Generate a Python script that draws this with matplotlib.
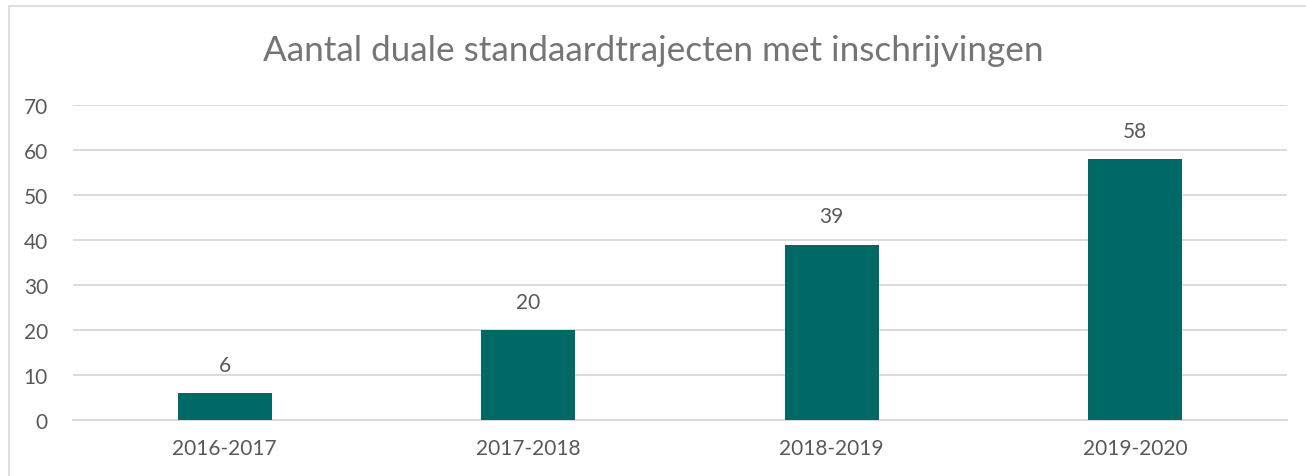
import matplotlib
matplotlib.use("Agg")
import matplotlib.pyplot as plt
from matplotlib.patches import Rectangle

# data
categories = ["2016-2017", "2017-2018", "2018-2019", "2019-2020"]
values = [6, 20, 39, 58]

TEAL = "#006865"
TEXT = "#595959"
TITLE = "#757575"
GRID = "#d9d9d9"

plt.rcParams["font.family"] = ["Lato", "DejaVu Sans"]

W, H = 1306, 477
fig = plt.figure(figsize=(W / 100, H / 100), dpi=100)

# outer chart border (top and left visible)
fig.patches.append(Rectangle((9 / W, -0.1), 1.2, (H - 7) / H + 0.1,
                             transform=fig.transFigure, fill=False,
                             edgecolor=GRID, linewidth=1.2))

ax = fig.add_axes([73 / W, (H - 421) / H, (1287 - 73) / W, (421 - 106) / H])
x = range(len(categories))
bars = ax.bar(x, values, width=0.31, color=TEAL, zorder=3)
ax.set_xlim(-0.5, len(categories) - 0.5)
ax.set_ylim(0, 70)
ax.set_yticks(range(0, 71, 10))
ax.set_xticks(list(x))
ax.set_xticklabels(categories)
ax.tick_params(axis="both", length=0, labelsize=15, labelcolor=TEXT)
ax.tick_params(axis="y", pad=18)
ax.tick_params(axis="x", pad=13)
ax.grid(axis="y", color=GRID, linewidth=1.3, zorder=0)
for s in ("top", "right", "left"):
    ax.spines[s].set_visible(False)
ax.spines["bottom"].set_color(GRID)
ax.spines["bottom"].set_linewidth(1.3)

for b, v in zip(bars, values):
    ax.annotate(str(v), (b.get_x() + b.get_width() / 2, v),
                xytext=(0, 13), textcoords="offset points",
                ha="center", va="bottom", fontsize=15, color=TEXT)

fig.text(0.5, (H - 51) / H, "Aantal duale standaardtrajecten met inschrijvingen",
         ha="center", va="center", fontsize=25.3, color=TITLE)

fig.savefig("out.png", dpi=100)
